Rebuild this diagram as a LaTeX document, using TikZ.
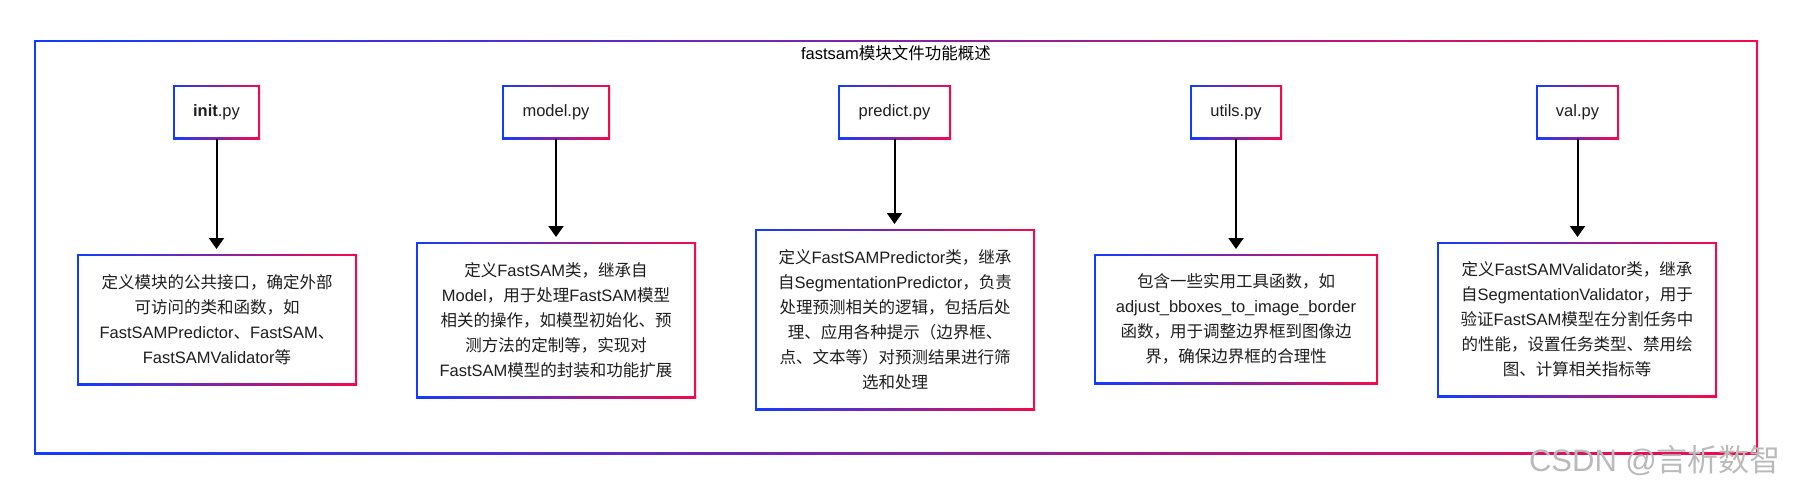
\documentclass[tikz,border=0pt]{standalone}
\usepackage{fontspec}
\setmainfont{Noto Sans CJK SC}
\newfontfamily\latf{Liberation Sans}
\newcommand{\eng}[1]{{\latf #1}}
\usetikzlibrary{arrows.meta,calc}
\definecolor{cblue}{RGB}{18,60,255}
\definecolor{cred}{RGB}{245,10,75}
\definecolor{txt}{RGB}{30,30,30}
\tikzset{
  gring/.style={inner sep=0pt, outer sep=0pt, align=center, text=txt,
    font=\fontsize{16.5}{25}\selectfont,
    path picture={
      \shade[left color=cblue, right color=cred]
        (path picture bounding box.south west) rectangle (path picture bounding box.north east);
      \fill[white]
        ([shift={(#1,#1)}]path picture bounding box.south west) rectangle
        ([shift={(-#1,-#1)}]path picture bounding box.north east);
    }},
  gring/.default=2pt,
  filebox/.style={gring, minimum height=54pt},
  descbox/.style={gring, minimum width=280pt},
  arr/.style={line width=2pt, -{Triangle[width=15pt,length=11pt]}, shorten >=5pt},
}
\begin{document}
\begin{tikzpicture}[x=1pt,y=-1pt]
\fill[white] (0,0) rectangle (1795,491);
\useasboundingbox (0,0) rectangle (1795,491);

\node[gring=2pt, minimum width=1724pt, minimum height=414pt] (frame) at (896,247) {};
\node[font=\fontsize{16.5}{20}\selectfont, text=black, inner sep=0pt] (title) at (896,53) {\eng{fastsam}模块文件功能概述};

\node[filebox, minimum width=87pt]  (f1) at (216.5,112) {\eng{\textbf{init}.py}};
\node[filebox, minimum width=108pt] (f2) at (556,112)   {\eng{model.py}};
\node[filebox, minimum width=113pt] (f3) at (894.5,112) {\eng{predict.py}};
\node[filebox, minimum width=92pt]  (f4) at (1236,112)  {\eng{utils.py}};
\node[filebox, minimum width=83pt]  (f5) at (1577.5,112) {\eng{val.py}};

\node[descbox, minimum height=131pt] (d1) at (217,319.5)
  {定义模块的公共接口，确定外部\\可访问的类和函数，如\\\eng{FastSAMPredictor}、\eng{FastSAM}、\\\eng{FastSAMValidator}等};
\node[descbox, minimum height=156pt] (d2) at (556,320)
  {定义\eng{FastSAM}类，继承自\\\eng{Model}，用于处理\eng{FastSAM}模型\\相关的操作，如模型初始化、预\\测方法的定制等，实现对\\\eng{FastSAM}模型的封装和功能扩展};
\node[descbox, minimum height=181pt] (d3) at (895,319.5)
  {定义\eng{FastSAMPredictor}类，继承\\自\eng{SegmentationPredictor}，负责\\处理预测相关的逻辑，包括后处\\理、应用各种提示（边界框、\\点、文本等）对预测结果进行筛\\选和处理};
\node[descbox, minimum width=284pt, minimum height=130pt] (d4) at (1236,319)
  {包含一些实用工具函数，如\\\eng{adjust\_bboxes\_to\_image\_border}\\函数，用于调整边界框到图像边\\界，确保边界框的合理性};
\node[descbox, minimum height=155pt] (d5) at (1577,319.5)
  {定义\eng{FastSAMValidator}类，继承\\自\eng{SegmentationValidator}，用于\\验证\eng{FastSAM}模型在分割任务中\\的性能，设置任务类型、禁用绘\\图、计算相关指标等};

\foreach \i in {1,...,5}
  \draw[arr] (f\i.south) -- (f\i.south |- d\i.north);

\node[font=\fontsize{31}{31}\selectfont, text=black!27, inner sep=0pt] (wm) at (1655,461) {\eng{CSDN @}言析数智};
\end{tikzpicture}
\end{document}
